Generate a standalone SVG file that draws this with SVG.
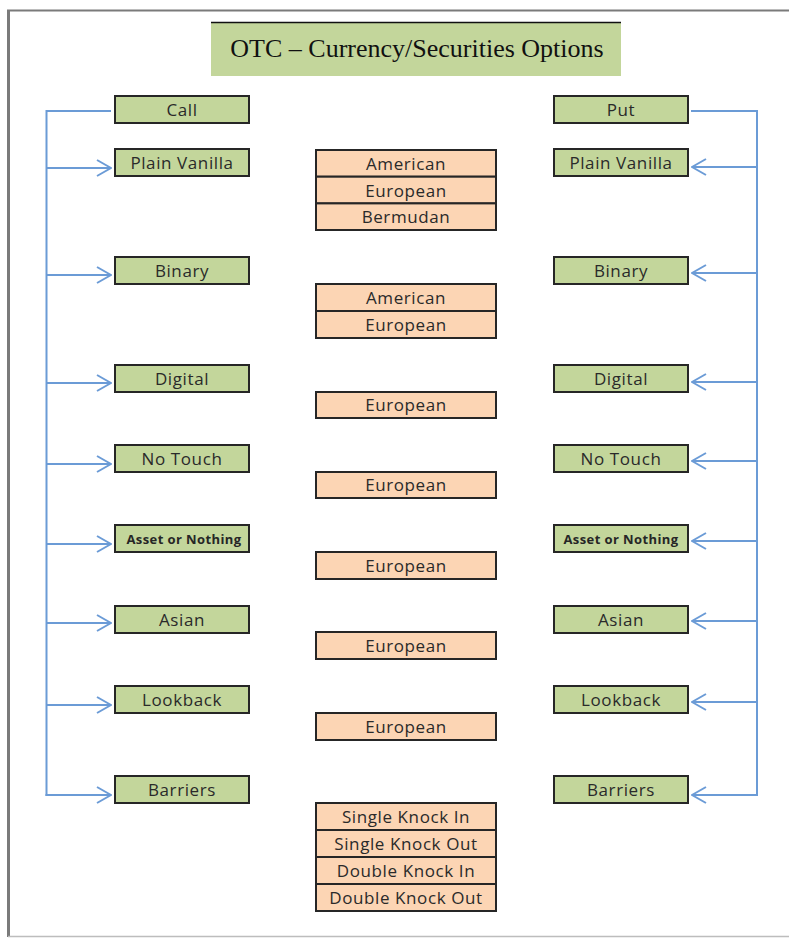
<svg xmlns="http://www.w3.org/2000/svg" width="789" height="938" viewBox="0 0 789 938">
<defs>
<style>
.g{fill:#c3d69b;stroke:#262626;stroke-width:2}
.o{fill:#fcd5b4;stroke:#262626;stroke-width:2}
.t{font-family:"Open Sans","Liberation Sans",sans-serif;font-size:17px;font-weight:500;letter-spacing:0.6px;fill:#2a2a2a;text-anchor:middle;dominant-baseline:central}
.s{font-family:"Open Sans","Liberation Sans",sans-serif;font-size:13px;font-weight:bold;letter-spacing:0.4px;fill:#262626;text-anchor:middle;dominant-baseline:central}
.c{fill:none;stroke:#6b9bd6;stroke-width:2}
</style>
<marker id="a" viewBox="0 0 16 18" refX="15" refY="9" markerWidth="16" markerHeight="18" markerUnits="userSpaceOnUse" orient="auto">
<path d="M1,1 L15,9 L1,17" fill="none" stroke="#6b9bd6" stroke-width="2"/>
</marker>
</defs>
<rect width="789" height="938" fill="#fff"/>
<g id="frame">
<line x1="8.5" y1="10" x2="8.5" y2="937" stroke="#7a7a7a" stroke-width="3"/>
<line x1="7" y1="10.5" x2="789" y2="10.5" stroke="#7a7a7a" stroke-width="2"/>
<line x1="8" y1="936.5" x2="789" y2="936.5" stroke="#bdbdbd" stroke-width="1.5"/>
</g>
<g id="title">
<rect x="211" y="22" width="410" height="54" fill="#c3d69b"/>
<line x1="211" y1="22.5" x2="621" y2="22.5" stroke="#111" stroke-width="1.5"/>
<text x="417" y="48" font-family="Liberation Serif,serif" font-size="26" fill="#111" text-anchor="middle" dominant-baseline="central">OTC – Currency/Securities Options</text>
</g>
<g id="connectors">
<polyline class="c" points="111,111 46.5,111 46.5,796"/>
<line class="c" x1="46.5" y1="168" x2="111" y2="168" marker-end="url(#a)"/>
<line class="c" x1="46.5" y1="275" x2="111" y2="275" marker-end="url(#a)"/>
<line class="c" x1="46.5" y1="383" x2="111" y2="383" marker-end="url(#a)"/>
<line class="c" x1="46.5" y1="464" x2="111" y2="464" marker-end="url(#a)"/>
<line class="c" x1="46.5" y1="544" x2="111" y2="544" marker-end="url(#a)"/>
<line class="c" x1="46.5" y1="623" x2="111" y2="623" marker-end="url(#a)"/>
<line class="c" x1="46.5" y1="705" x2="111" y2="705" marker-end="url(#a)"/>
<line class="c" x1="45.5" y1="795" x2="111" y2="795" marker-end="url(#a)"/>
<polyline class="c" points="691,111 757,111 757,796"/>
<line class="c" x1="757" y1="167" x2="692" y2="167" marker-end="url(#a)"/>
<line class="c" x1="757" y1="273" x2="692" y2="273" marker-end="url(#a)"/>
<line class="c" x1="757" y1="382" x2="692" y2="382" marker-end="url(#a)"/>
<line class="c" x1="757" y1="461" x2="692" y2="461" marker-end="url(#a)"/>
<line class="c" x1="757" y1="541" x2="692" y2="541" marker-end="url(#a)"/>
<line class="c" x1="757" y1="621" x2="692" y2="621" marker-end="url(#a)"/>
<line class="c" x1="757" y1="702" x2="692" y2="702" marker-end="url(#a)"/>
<line class="c" x1="758" y1="795" x2="692" y2="795" marker-end="url(#a)"/>
</g>
<g id="call"><rect class="g" x="115" y="96" width="134" height="27"/><text class="t" x="182" y="109.5">Call</text></g>
<g id="call-plain-vanilla"><rect class="g" x="115" y="149" width="134" height="27"/><text class="t" x="182" y="162.5">Plain Vanilla</text></g>
<g id="call-binary"><rect class="g" x="115" y="257" width="134" height="27"/><text class="t" x="182" y="270.5">Binary</text></g>
<g id="call-digital"><rect class="g" x="115" y="365" width="134" height="27"/><text class="t" x="182" y="378.5">Digital</text></g>
<g id="call-no-touch"><rect class="g" x="115" y="445" width="134" height="27"/><text class="t" x="182" y="458.5">No Touch</text></g>
<g id="call-asset"><rect class="g" x="115" y="525" width="134" height="27"/><text class="s" x="184" y="538.5">Asset or Nothing</text></g>
<g id="call-asian"><rect class="g" x="115" y="606" width="134" height="27"/><text class="t" x="182" y="619.5">Asian</text></g>
<g id="call-lookback"><rect class="g" x="115" y="686" width="134" height="27"/><text class="t" x="182" y="699.5">Lookback</text></g>
<g id="call-barriers"><rect class="g" x="115" y="776" width="134" height="27"/><text class="t" x="182" y="789.5">Barriers</text></g>
<g id="put"><rect class="g" x="554" y="96" width="134" height="27"/><text class="t" x="621" y="109.5">Put</text></g>
<g id="put-plain-vanilla"><rect class="g" x="554" y="149" width="134" height="27"/><text class="t" x="621" y="162.5">Plain Vanilla</text></g>
<g id="put-binary"><rect class="g" x="554" y="257" width="134" height="27"/><text class="t" x="621" y="270.5">Binary</text></g>
<g id="put-digital"><rect class="g" x="554" y="365" width="134" height="27"/><text class="t" x="621" y="378.5">Digital</text></g>
<g id="put-no-touch"><rect class="g" x="554" y="445" width="134" height="27"/><text class="t" x="621" y="458.5">No Touch</text></g>
<g id="put-asset"><rect class="g" x="554" y="525" width="134" height="27"/><text class="s" x="621" y="538.5">Asset or Nothing</text></g>
<g id="put-asian"><rect class="g" x="554" y="606" width="134" height="27"/><text class="t" x="621" y="619.5">Asian</text></g>
<g id="put-lookback"><rect class="g" x="554" y="686" width="134" height="27"/><text class="t" x="621" y="699.5">Lookback</text></g>
<g id="put-barriers"><rect class="g" x="554" y="776" width="134" height="27"/><text class="t" x="621" y="789.5">Barriers</text></g>
<g id="styles-vanilla">
<rect class="o" x="316" y="150" width="180" height="26.7"/><text class="t" x="406" y="163">American</text>
<rect class="o" x="316" y="176.7" width="180" height="26.7"/><text class="t" x="406" y="190">European</text>
<rect class="o" x="316" y="203.4" width="180" height="26.6"/><text class="t" x="406" y="216.5">Bermudan</text>
</g>
<g id="styles-binary">
<rect class="o" x="316" y="284" width="180" height="27"/><text class="t" x="406" y="297">American</text>
<rect class="o" x="316" y="311" width="180" height="27"/><text class="t" x="406" y="324">European</text>
</g>
<g id="style-digital"><rect class="o" x="316" y="392" width="180" height="26"/><text class="t" x="406" y="404.5">European</text></g>
<g id="style-no-touch"><rect class="o" x="316" y="472" width="180" height="26"/><text class="t" x="406" y="484.5">European</text></g>
<g id="style-asset"><rect class="o" x="316" y="552" width="180" height="27"/><text class="t" x="406" y="565">European</text></g>
<g id="style-asian"><rect class="o" x="316" y="632" width="180" height="27"/><text class="t" x="406" y="645">European</text></g>
<g id="style-lookback"><rect class="o" x="316" y="713" width="180" height="27"/><text class="t" x="406" y="726">European</text></g>
<g id="styles-barriers">
<rect class="o" x="316" y="803" width="180" height="27"/><text class="t" x="406" y="816">Single Knock In</text>
<rect class="o" x="316" y="830" width="180" height="27"/><text class="t" x="406" y="843">Single Knock Out</text>
<rect class="o" x="316" y="857" width="180" height="27"/><text class="t" x="406" y="870">Double Knock In</text>
<rect class="o" x="316" y="884" width="180" height="27"/><text class="t" x="406" y="897">Double Knock Out</text>
</g>
</svg>
